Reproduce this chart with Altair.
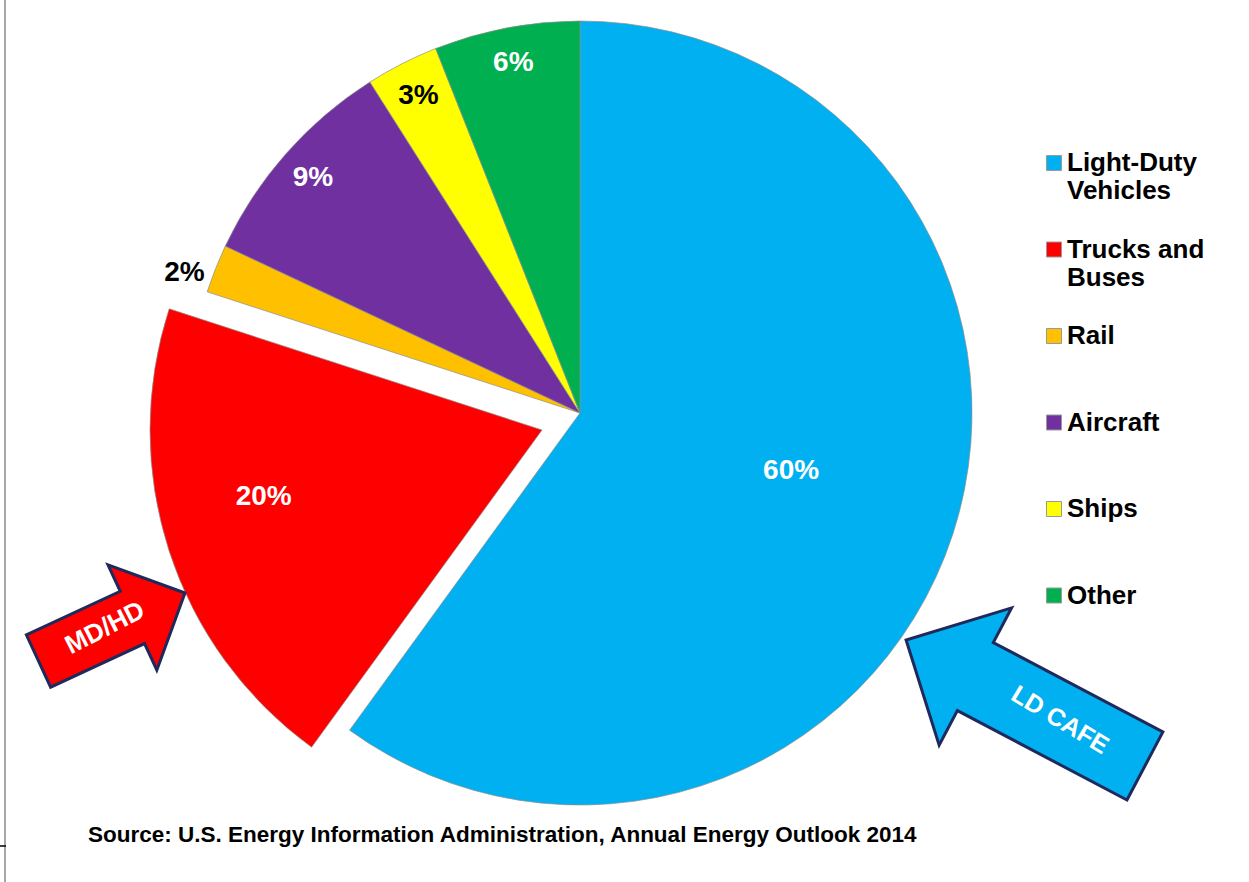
import altair as alt
import pandas as pd

# ---- data ----
categories = ["Light-Duty\nVehicles", "Trucks and\nBuses", "Rail", "Aircraft", "Ships", "Other"]
shares = [60, 20, 2, 9, 3, 6]
colors = ["#00B0F0", "#FF0000", "#FFC000", "#7030A0", "#FFFF00", "#00B050"]
exploded = ["Trucks and\nBuses"]
dark_labels = ["Rail", "Ships"]
outside_labels = ["Rail"]
big_labels = ["Light-Duty\nVehicles"]
source_text = "Source: U.S. Energy Information Administration, Annual Energy Outlook 2014"

df = pd.DataFrame({"category": categories, "share": shares, "order": list(range(len(categories)))})

FONT = "Liberation Sans"
CX, CY, R = 580, 413, 392
EX, EY = 542, 430  # centre of the pulled-out slice

theta_scale = alt.Scale(domain=[0, 1])
color_enc = alt.Color(
    "category:N",
    scale=alt.Scale(domain=categories, range=colors),
    legend=alt.Legend(
        title=None,
        orient="none",
        legendX=1041,
        legendY=150,
        direction="vertical",
        symbolType="square",
        symbolSize=225,
        symbolStrokeColor="#9a9a9a",
        symbolStrokeWidth=1,
        labelFont=FONT,
        labelFontSize=26,
        labelFontWeight="bold",
        labelColor="black",
        labelOffset=0,
        labelLimit=400,
        rowPadding=32.5,
        padding=0,
        labelExpr="split(datum.label + (indexof(datum.label, '\\n') < 0 ? '\\n' : ''), '\\n')",
    ),
)

base = (
    alt.Chart(df)
    .transform_joinaggregate(total="sum(share)")
    .transform_window(cum="sum(share)", sort=[alt.SortField("order")], frame=[None, 0])
    .transform_calculate(
        start="(datum.cum - datum.share) / datum.total",
        end="datum.cum / datum.total",
        mid="(datum.cum - datum.share / 2) / datum.total",
        label="format(datum.share, 'd') + '%'",
    )
)

is_exploded = alt.FieldOneOfPredicate(field="category", oneOf=exploded)
not_exploded = alt.LogicalNotPredicate(**{"not": is_exploded})

arc_style = dict(outerRadius=R, stroke="#8c8c8c", strokeWidth=0.7)

arcs = base.transform_filter(not_exploded).mark_arc(**arc_style).encode(
    theta=alt.Theta("start:Q", scale=theta_scale),
    theta2="end:Q",
    color=color_enc,
    x=alt.value(CX),
    y=alt.value(CY),
)
arcs_ex = base.transform_filter(is_exploded).mark_arc(**arc_style).encode(
    theta=alt.Theta("start:Q", scale=theta_scale),
    theta2="end:Q",
    color=color_enc,
    x=alt.value(EX),
    y=alt.value(EY),
)

txt_color = alt.condition(
    alt.FieldOneOfPredicate(field="category", oneOf=dark_labels), alt.value("black"), alt.value("white")
)
text_style = dict(font=FONT, fontSize=28, fontWeight="bold", align="center", baseline="middle")

small = alt.LogicalAndPredicate(**{"and": [
    not_exploded,
    alt.LogicalNotPredicate(**{"not": alt.FieldOneOfPredicate(field="category", oneOf=outside_labels)}),
    alt.LogicalNotPredicate(**{"not": alt.FieldOneOfPredicate(field="category", oneOf=big_labels)}),
]})

lab_small = base.transform_filter(small).mark_text(**text_style).encode(
    theta=alt.Theta("mid:Q", scale=theta_scale), radius=alt.value(356),
    x=alt.value(CX), y=alt.value(CY), text="label:N", color=txt_color,
)
lab_big = base.transform_filter(alt.FieldOneOfPredicate(field="category", oneOf=big_labels)).mark_text(
    dy=-11, **text_style
).encode(
    theta=alt.Theta("mid:Q", scale=theta_scale), radius=alt.value(222),
    x=alt.value(CX), y=alt.value(CY), text="label:N", color=txt_color,
)
lab_out = base.transform_filter(alt.FieldOneOfPredicate(field="category", oneOf=outside_labels)).mark_text(
    dy=15, dx=-5, **text_style
).encode(
    theta=alt.Theta("mid:Q", scale=theta_scale), radius=alt.value(420),
    x=alt.value(CX), y=alt.value(CY), text="label:N", color=txt_color,
)
lab_ex = base.transform_filter(is_exploded).mark_text(dy=-20, dx=-12, **text_style).encode(
    theta=alt.Theta("mid:Q", scale=theta_scale), radius=alt.value(280),
    x=alt.value(EX), y=alt.value(EY), text="label:N", color=txt_color,
)

# ---- annotations: block arrows and source note ----
one = alt.Data(values=[{"a": 1}])
arrow_md = "M -1 -0.357 L 0.282 -0.357 L 0.282 -0.718 L 1 0 L 0.282 0.718 L 0.282 0.357 L -1 0.357 Z"
arrow_ld = "M -1 -0.285 L 0.42 -0.285 L 0.42 -0.575 L 1 0 L 0.42 0.575 L 0.42 0.285 L -1 0.285 Z"

md_arrow = alt.Chart(one).mark_point(
    shape=arrow_md, size=26082, angle=335.1, filled=True, fill="#FF0000",
    stroke="#1F2A5C", strokeWidth=3, opacity=1, fillOpacity=1, strokeOpacity=1,
).encode(x=alt.value(111.75), y=alt.value(627))
md_text = alt.Chart(one).mark_text(
    text="MD/HD", font=FONT, fontSize=26, fontWeight="bold", color="white",
    angle=333, align="center", baseline="middle",
).encode(x=alt.value(105), y=alt.value(628))

ld_arrow = alt.Chart(one).mark_point(
    shape=arrow_ld, size=72900, angle=207.8, filled=True, fill="#00B0F0",
    stroke="#1F2A5C", strokeWidth=3, opacity=1, fillOpacity=1, strokeOpacity=1,
).encode(x=alt.value(1025.5), y=alt.value(703))
ld_text = alt.Chart(one).mark_text(
    text="LD CAFE", font=FONT, fontSize=25, fontWeight="bold", color="white",
    angle=31, align="center", baseline="middle",
).encode(x=alt.value(1060), y=alt.value(720))

source = alt.Chart(one).mark_text(
    text=source_text, font=FONT, fontSize=22.5, fontWeight="bold", color="black",
    align="left", baseline="middle",
).encode(x=alt.value(88), y=alt.value(835))

border = alt.Chart(one).mark_rule(color="#8a8a8a", strokeWidth=1.5).encode(
    x=alt.value(5), y=alt.value(0), y2=alt.value(882)
)
tick = alt.Chart(one).mark_rule(color="black", strokeWidth=1.5).encode(
    x=alt.value(0), x2=alt.value(6), y=alt.value(846)
)

chart = (
    alt.layer(arcs, arcs_ex, lab_small, lab_big, lab_out, lab_ex,
              md_arrow, md_text, ld_arrow, ld_text, source, border, tick)
    .properties(width=1249, height=882, autosize=alt.AutoSizeParams(type="none"), padding=0)
    .configure_view(stroke=None)
)

chart.save("out.html", embed_options={"renderer": "svg", "actions": False})
